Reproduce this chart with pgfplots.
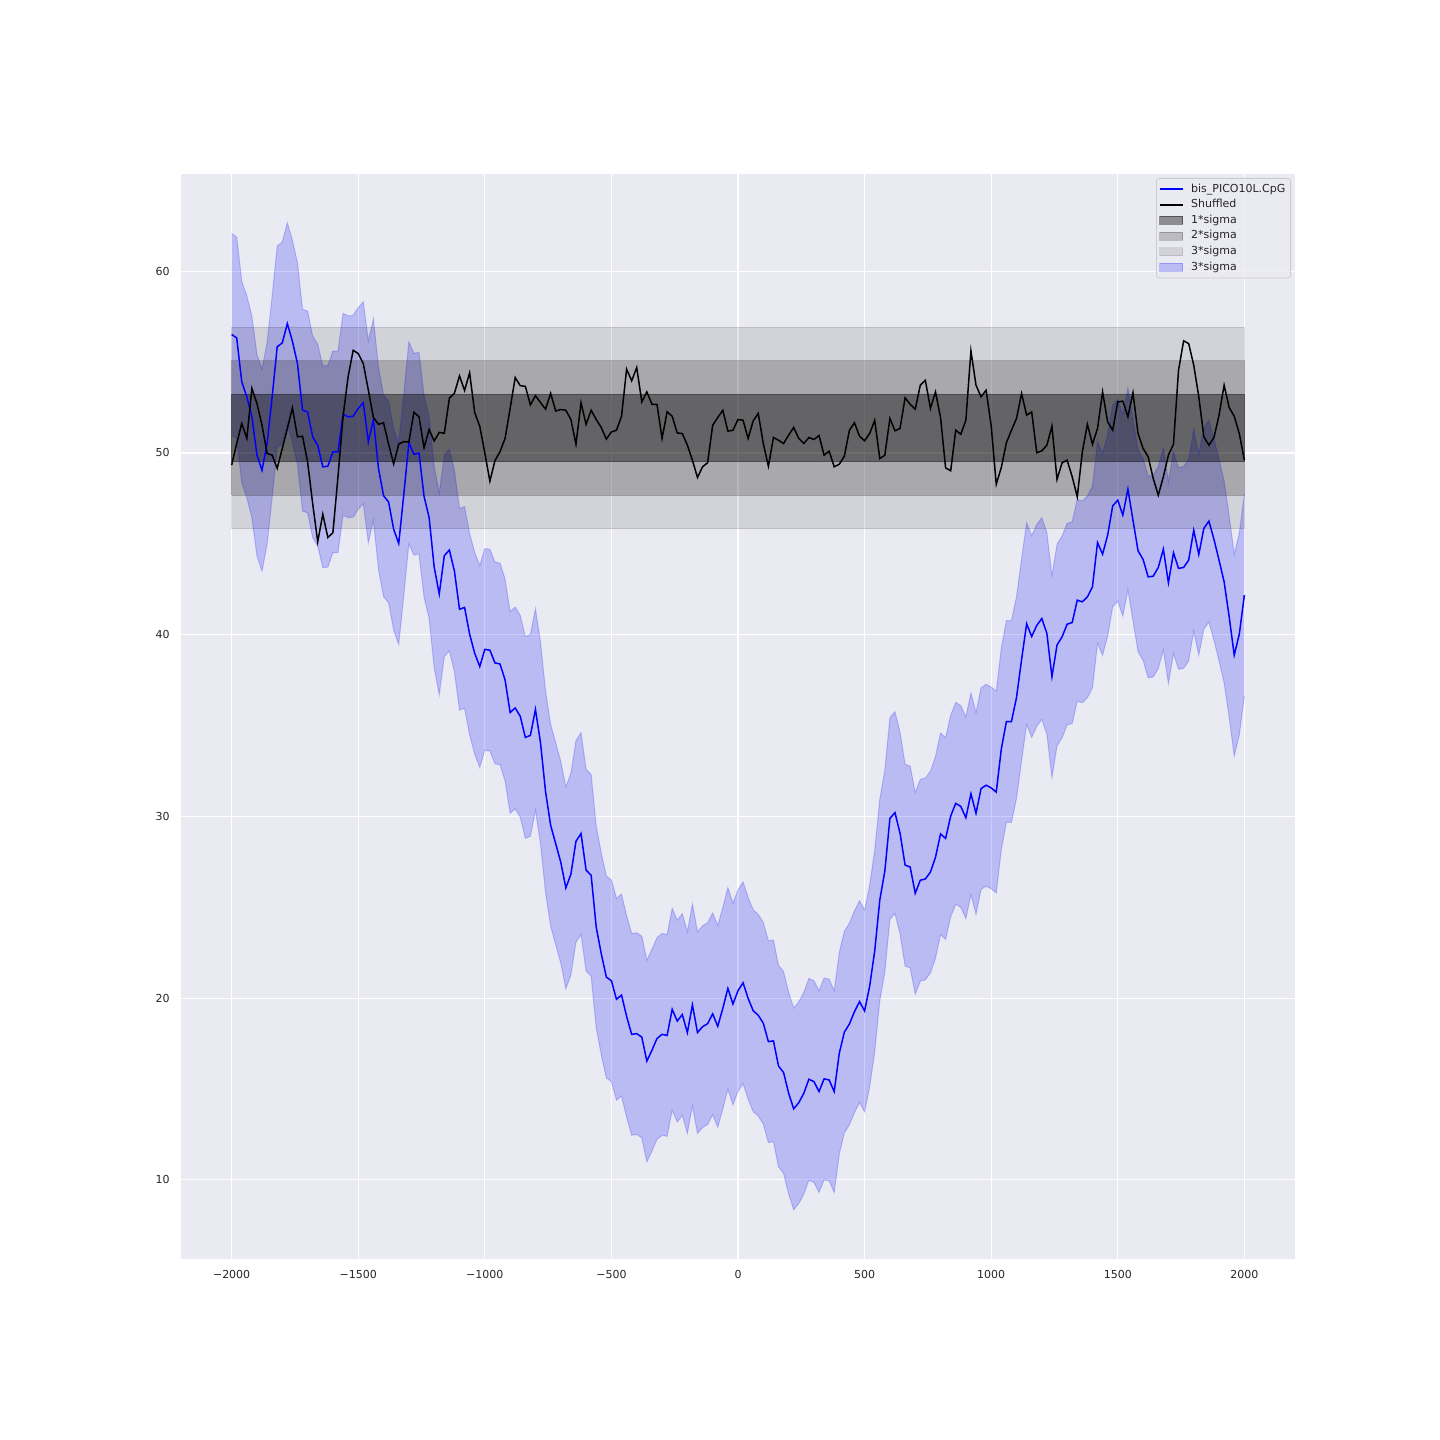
\documentclass[border=0pt]{standalone}
\usepackage{pgfplots}
\pgfplotsset{compat=1.18}
\usepackage{pgfplotstable}
\usepgfplotslibrary{fillbetween}
\usepackage{fontspec}
\setmainfont{DejaVu Sans}
\definecolor{bgc}{HTML}{EAEAF2}
\definecolor{txt}{HTML}{262626}
\definecolor{legedge}{HTML}{CCCCCC}
\pgfplotsset{
  lineleg/.style={legend image code/.code={\draw[sharp corners, ##1] (0pt,0pt) -- (11.5pt,0pt); \path (14pt,0pt);}},
  patchleg/.style={legend image code/.code={\draw[sharp corners, ##1] (0pt,-2pt) rectangle (11.5pt,2pt); \path (14pt,0pt);}},
}

% x  blue  upper  lower  shuffled
\pgfplotstableread{
x b u l s
-2000 56.52 62.07 50.97 49.33
-1980 56.33 61.88 50.78 50.52
-1960 53.91 59.46 48.36 51.62
-1940 53.09 58.64 47.54 50.80
-1920 51.99 57.54 46.44 53.55
-1900 49.88 55.43 44.33 52.72
-1880 49.05 54.60 43.50 51.53
-1860 50.52 56.07 44.97 49.97
-1840 53.09 58.64 47.54 49.88
-1820 55.84 61.39 50.29 49.15
-1800 56.06 61.61 50.51 50.25
-1780 57.12 62.67 51.57 51.35
-1760 56.15 61.70 50.60 52.48
-1740 54.92 60.47 49.37 50.89
-1720 52.35 57.90 46.80 50.92
-1700 52.26 57.81 46.71 49.51
-1680 50.89 56.44 45.34 47.22
-1660 50.43 55.98 44.88 45.11
-1640 49.24 54.79 43.69 46.63
-1620 49.27 54.82 43.72 45.35
-1600 50.06 55.61 44.51 45.61
-1580 50.06 55.61 44.51 48.69
-1560 52.13 57.68 46.58 51.99
-1540 51.99 57.54 46.44 54.19
-1520 52.02 57.57 46.47 55.65
-1500 52.45 58.00 46.90 55.47
-1480 52.76 58.31 47.21 54.92
-1460 50.61 56.16 45.06 53.45
-1440 51.84 57.39 46.29 51.95
-1420 49.15 54.70 43.60 51.58
-1400 47.65 53.20 42.10 51.66
-1380 47.30 52.85 41.75 50.48
-1360 45.80 51.35 40.25 49.40
-1340 45.02 50.57 39.47 50.49
-1320 47.72 53.27 42.17 50.62
-1300 50.56 56.11 45.01 50.60
-1280 49.93 55.48 44.38 52.24
-1260 49.99 55.54 44.44 51.99
-1240 47.61 53.16 42.06 50.29
-1220 46.45 52.00 40.90 51.29
-1200 43.72 49.27 38.17 50.66
-1180 42.24 47.79 36.69 51.13
-1160 44.35 49.90 38.80 51.08
-1140 44.66 50.21 39.11 53.02
-1120 43.50 49.05 37.95 53.29
-1100 41.40 46.95 35.85 54.24
-1080 41.50 47.05 35.95 53.44
-1060 40.03 45.58 34.48 54.41
-1040 38.98 44.53 33.43 52.22
-1020 38.25 43.80 32.70 51.47
-1000 39.19 44.74 33.64 50.00
-980 39.15 44.70 33.60 48.45
-960 38.45 44.00 32.90 49.58
-940 38.39 43.94 32.84 50.07
-920 37.51 43.06 31.96 50.80
-900 35.72 41.27 30.17 52.45
-880 35.97 41.52 30.42 54.15
-860 35.51 41.06 29.96 53.70
-840 34.35 39.90 28.80 53.67
-820 34.46 40.01 28.91 52.65
-800 35.89 41.44 30.34 53.15
-780 34.04 39.59 28.49 52.77
-760 31.35 36.90 25.80 52.41
-740 29.51 35.06 23.96 53.28
-720 28.50 34.05 22.95 52.31
-700 27.48 33.03 21.93 52.39
-680 26.07 31.62 20.52 52.35
-660 26.82 32.37 21.27 51.84
-640 28.63 34.18 23.08 50.48
-620 29.06 34.61 23.51 52.76
-600 27.05 32.60 21.50 51.57
-580 26.76 32.31 21.21 52.35
-560 23.91 29.46 18.36 51.84
-540 22.44 27.99 16.89 51.40
-520 21.16 26.71 15.61 50.76
-500 20.96 26.51 15.41 51.16
-480 19.94 25.49 14.39 51.25
-460 20.17 25.72 14.62 52.02
-440 19.00 24.55 13.45 54.61
-420 18.01 23.56 12.46 53.97
-400 18.05 23.60 12.50 54.70
-380 17.86 23.41 12.31 52.81
-360 16.54 22.09 10.99 53.36
-340 17.13 22.68 11.58 52.68
-320 17.78 23.33 12.23 52.68
-300 18.01 23.56 12.46 50.80
-280 17.95 23.50 12.40 52.26
-260 19.39 24.94 13.84 52.02
-240 18.74 24.29 13.19 51.10
-220 19.10 24.65 13.55 51.07
-200 18.11 23.66 12.56 50.43
-180 19.63 25.18 14.08 49.60
-160 18.11 23.66 12.56 48.65
-140 18.43 23.98 12.88 49.24
-120 18.60 24.15 13.05 49.46
-100 19.14 24.69 13.59 51.53
-80 18.45 24.00 12.90 51.95
-60 19.44 24.99 13.89 52.35
-40 20.54 26.09 14.99 51.20
-20 19.68 25.23 14.13 51.25
0 20.41 25.96 14.86 51.84
20 20.85 26.40 15.30 51.80
40 19.99 25.54 14.44 50.80
60 19.31 24.86 13.76 51.77
80 19.06 24.61 13.51 52.17
100 18.62 24.17 13.07 50.52
120 17.61 23.16 12.06 49.27
140 17.65 23.20 12.10 50.85
160 16.27 21.82 10.72 50.70
180 15.91 21.46 10.36 50.52
200 14.77 20.32 9.22 50.98
220 13.91 19.46 8.36 51.40
240 14.25 19.80 8.70 50.80
260 14.77 20.32 9.22 50.52
280 15.54 21.09 9.99 50.85
300 15.41 20.96 9.86 50.74
320 14.86 20.41 9.31 50.96
340 15.56 21.11 10.01 49.88
360 15.50 21.05 9.95 50.10
380 14.86 20.41 9.31 49.24
400 16.97 22.52 11.42 49.38
420 18.13 23.68 12.58 49.82
440 18.58 24.13 13.03 51.25
460 19.26 24.81 13.71 51.66
480 19.81 25.36 14.26 50.92
500 19.30 24.85 13.75 50.67
520 20.66 26.21 15.11 51.07
540 22.60 28.15 17.05 51.80
560 25.40 30.95 19.85 49.69
580 27.00 32.55 21.45 49.88
600 29.89 35.44 24.34 51.90
620 30.21 35.76 24.66 51.22
640 29.08 34.63 23.53 51.35
660 27.32 32.87 21.77 53.03
680 27.22 32.77 21.67 52.68
700 25.77 31.32 20.22 52.41
720 26.49 32.04 20.94 53.73
740 26.56 32.11 21.01 54.00
760 26.94 32.49 21.39 52.45
780 27.75 33.30 22.20 53.36
800 29.04 34.59 23.49 51.95
820 28.79 34.34 23.24 49.18
840 30.02 35.57 24.47 49.02
860 30.72 36.27 25.17 51.25
880 30.55 36.10 25.00 51.03
900 29.93 35.48 24.38 51.80
920 31.25 36.80 25.70 55.62
940 30.17 35.72 24.62 53.73
960 31.53 37.08 25.98 53.09
980 31.72 37.27 26.17 53.45
1000 31.57 37.12 26.02 51.50
1020 31.34 36.89 25.79 48.28
1040 33.71 39.26 28.16 49.20
1060 35.22 40.77 29.67 50.56
1080 35.22 40.77 29.67 51.25
1100 36.54 42.09 30.99 51.90
1120 38.62 44.17 33.07 53.27
1140 40.60 46.15 35.05 52.08
1160 39.90 45.45 34.35 52.26
1180 40.51 46.06 34.96 50.01
1200 40.89 46.44 35.34 50.12
1220 40.07 45.62 34.52 50.43
1240 37.69 43.24 32.14 51.47
1260 39.43 44.98 33.88 48.54
1280 39.88 45.43 34.33 49.46
1300 40.58 46.13 35.03 49.60
1320 40.67 46.22 35.12 48.69
1340 41.90 47.45 36.35 47.59
1360 41.81 47.36 36.26 50.06
1380 42.08 47.63 36.53 51.58
1400 42.63 48.18 37.08 50.48
1420 45.07 50.62 39.52 51.35
1440 44.43 49.98 38.88 53.36
1460 45.48 51.03 39.93 51.71
1480 47.09 52.64 41.54 51.25
1500 47.40 52.95 41.85 52.81
1520 46.58 52.13 41.03 52.85
1540 48.01 53.56 42.46 51.99
1560 46.31 51.86 40.76 53.31
1580 44.62 50.17 39.07 51.07
1600 44.14 49.69 38.59 50.25
1620 43.18 48.73 37.63 49.79
1640 43.22 48.77 37.67 48.60
1660 43.70 49.25 38.15 47.68
1680 44.71 50.26 39.16 48.69
1700 42.86 48.41 37.31 49.88
1720 44.51 50.06 38.96 50.48
1740 43.65 49.20 38.10 54.55
1760 43.70 49.25 38.15 56.17
1780 44.10 49.65 38.55 56.02
1800 45.75 51.30 40.20 54.83
1820 44.42 49.97 38.87 53.09
1840 45.85 51.40 40.30 50.89
1860 46.25 51.80 40.70 50.43
1880 45.24 50.79 39.69 50.85
1900 44.10 49.65 38.55 52.08
1920 42.91 48.46 37.36 53.73
1940 40.99 46.54 35.44 52.50
1960 38.88 44.43 33.33 52.02
1980 40.03 45.58 34.48 51.07
2000 42.18 47.73 36.63 49.60
}\data

\begin{document}
\begin{tikzpicture}
\path (0,0) rectangle (720pt,720pt);
\begin{axis}[
  at={(90.5pt,90.5pt)}, anchor=south west,
  scale only axis, width=557pt, height=542.5pt,
  xmin=-2200, xmax=2200, ymin=5.65, ymax=65.35,
  axis background/.style={fill=bgc},
  axis line style={draw=none},
  major tick length=0pt,
  xtick={-2000,-1500,-1000,-500,0,500,1000,1500,2000},
  xticklabels={−2000,−1500,−1000,−500,0,500,1000,1500,2000},
  ytick={10,20,30,40,50,60},
  yticklabels={10,20,30,40,50,60},
  grid=major,
  major grid style={white, line width=0.55pt},
  tick label style={font=\fontsize{5.5}{6.5}\selectfont, text=txt, inner sep=0pt},
  xticklabel style={yshift=-5.5pt},
  yticklabel style={xshift=-5.5pt},
  legend cell align=left,
  legend style={at={(1,1)}, anchor=north east, xshift=-2pt, yshift=-2pt,
    fill=bgc, fill opacity=0.8, text opacity=1, draw=legedge, rounded corners=1.5pt,
    font=\fontsize{5.5}{6.5}\selectfont, text=txt,
    nodes={inner sep=1.4pt, text height=4pt, text depth=1pt},
    inner xsep=1.2pt, inner ysep=1.5pt},
]
\addlegendimage{lineleg, blue, line width=0.75pt}
\addlegendentry{bis\_PICO10L.CpG}
\addlegendimage{lineleg, black, line width=0.75pt}
\addlegendentry{Shuffled}
\addlegendimage{patchleg, fill=black, fill opacity=0.4, draw=black, draw opacity=0.4, line width=0.4pt}
\addlegendentry{1*sigma}
\addlegendimage{patchleg, fill=black, fill opacity=0.2, draw=black, draw opacity=0.2, line width=0.4pt}
\addlegendentry{2*sigma}
\addlegendimage{patchleg, fill=black, fill opacity=0.1, draw=black, draw opacity=0.1, line width=0.4pt}
\addlegendentry{3*sigma}
\addlegendimage{patchleg, fill=blue, fill opacity=0.2, draw=blue, draw opacity=0.2, line width=0.4pt}
\addlegendentry{3*sigma}

% sigma bands of the shuffled data
\addplot[forget plot, fill=black, fill opacity=0.1, draw=black, draw opacity=0.1, line width=0.5pt]
  coordinates {(-2000,45.82) (2000,45.82) (2000,56.92) (-2000,56.92) (-2000,45.82)};
\addplot[forget plot, fill=black, fill opacity=0.2, draw=black, draw opacity=0.2, line width=0.5pt]
  coordinates {(-2000,47.67) (2000,47.67) (2000,55.07) (-2000,55.07) (-2000,47.67)};
\addplot[forget plot, fill=black, fill opacity=0.4, draw=black, draw opacity=0.4, line width=0.5pt]
  coordinates {(-2000,49.52) (2000,49.52) (2000,53.22) (-2000,53.22) (-2000,49.52)};

% blue band
\addplot[forget plot, name path=up, draw=blue, draw opacity=0.2, line width=0.5pt] table[x=x, y=u] {\data};
\addplot[forget plot, name path=lo, draw=blue, draw opacity=0.2, line width=0.5pt] table[x=x, y=l] {\data};
\addplot[forget plot, fill=blue, fill opacity=0.2, draw=none] fill between[of=up and lo];

% lines
\addplot[forget plot, blue, line width=0.75pt, mark=none] table[x=x, y=b] {\data};
\addplot[forget plot, black, line width=0.75pt, mark=none] table[x=x, y=s] {\data};
\end{axis}
\end{tikzpicture}
\end{document}
